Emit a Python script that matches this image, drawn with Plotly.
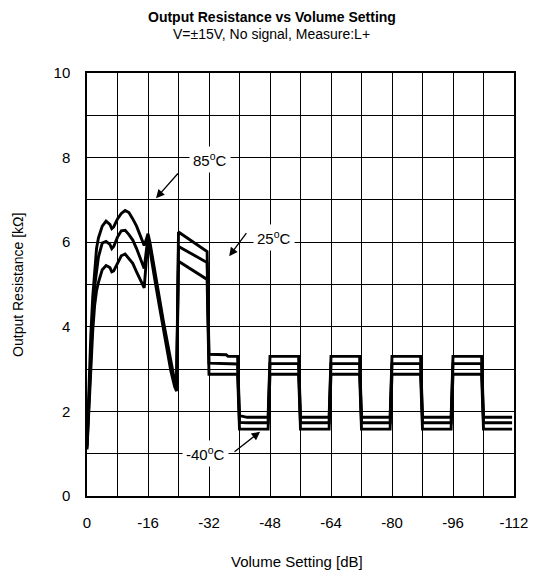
import plotly.graph_objects as go

# Volume setting [dB]
volume_db = [0, -0.5, -1, -1.5, -2, -2.5, -3, -4, -5, -6, -6.5, -7, -8, -9, -10, -11, -12, -13, -14, -15,
             -15.5, -16, -16.5, -17, -18, -19, -20, -21, -22, -23, -23.5,
             -24, -31.5,
             -32, -36.5, -37, -39.5,
             -40, -42, -47.5,
             -48, -55.5, -56, -63.5, -64, -71.5, -72, -79.5,
             -80, -87.5, -88, -95.5, -96, -103.5, -104, -111.5]

# Output resistance [kOhm]
r_85c = [1.2, 2.6, 3.8, 4.7, 5.4, 5.85, 6.1, 6.38, 6.5, 6.42, 6.32, 6.36, 6.55, 6.68, 6.75, 6.7, 6.55, 6.38, 6.15, 5.92,
         6.05, 6.2, 6.0, 5.72, 5.2, 4.68, 4.15, 3.65, 3.15, 2.72, 2.58,
         6.24, 5.78,
         3.35, 3.34, 3.3, 3.3,
         1.9, 1.86, 1.86,
         3.3, 3.3, 1.86, 1.86, 3.3, 3.3, 1.86, 1.86,
         3.3, 3.3, 1.86, 1.86, 3.3, 3.3, 1.86, 1.86]

r_25c = [1.15, 2.3, 3.4, 4.3, 4.95, 5.35, 5.65, 5.98, 6.02, 5.95, 5.85, 5.9, 6.12, 6.27, 6.28, 6.18, 6.05, 5.85, 5.62, 5.38,
         5.75, 6.12, 5.92, 5.62, 5.1, 4.58, 4.05, 3.55, 3.05, 2.65, 2.53,
         5.9, 5.52,
         3.14, 3.13, 3.12, 3.12,
         1.74, 1.73, 1.73,
         3.13, 3.13, 1.73, 1.73, 3.13, 3.13, 1.73, 1.73,
         3.13, 3.13, 1.73, 1.73, 3.13, 3.13, 1.73, 1.73]

r_m40c = [1.1, 2.1, 3.1, 3.9, 4.5, 4.85, 5.05, 5.35, 5.45, 5.4, 5.3, 5.32, 5.5, 5.68, 5.72, 5.62, 5.5, 5.3, 5.1, 4.92,
          5.5, 6.05, 5.82, 5.52, 5.0, 4.48, 3.95, 3.45, 2.95, 2.58, 2.48,
          5.55, 5.12,
          2.88, 2.88, 2.88, 2.88,
          1.58, 1.58, 1.58,
          2.88, 2.88, 1.58, 1.58, 2.88, 2.88, 1.58, 1.58,
          2.88, 2.88, 1.58, 1.58, 2.88, 2.88, 1.58, 1.58]

x_ticks = [0, -16, -32, -48, -64, -80, -96, -112]
x_labels = ["0", "-16", "-32", "-48", "-64", "-80", "-96", "-112"]
x_minor = [-8, -24, -40, -56, -72, -88, -104]
y_ticks = [0, 2, 4, 6, 8, 10]
y_labels = ["0", "2", "4", "6", "8", "10"]
y_minor = [1, 3, 5, 7, 9]

FONT = "Liberation Sans, Arial, sans-serif"

fig = go.Figure()
for name, ys in [("85°C", r_85c), ("25°C", r_25c), ("-40°C", r_m40c)]:
    fig.add_trace(go.Scatter(x=volume_db, y=ys, mode="lines", name=name,
                             line=dict(color="black", width=2.9), showlegend=False))

# arrows (tail -> head)
arrows = [(-24.2, 7.66, -18.1, 7.04), (-42.1, 6.25, -37.3, 5.67), (-38.3, 1.02, -45.4, 1.52)]
for ax_, ay_, x_, y_ in arrows:
    fig.add_annotation(x=x_, y=y_, ax=ax_, ay=ay_, xref="x", yref="y", axref="x", ayref="y",
                       text="", showarrow=True, arrowhead=2, arrowsize=1.3, arrowwidth=1.3,
                       arrowcolor="black")

labels = [("85<sup>o</sup>C", -32.3, 7.95), ("25<sup>o</sup>C", -49, 6.12), ("-40<sup>o</sup>C", -31, 1.0)]
for t, lx, ly in labels:
    fig.add_annotation(x=lx, y=ly, xref="x", yref="y", text=t, showarrow=False,
                       bgcolor="white", font=dict(family=FONT, size=15, color="black"), borderpad=3)

# titles
fig.add_annotation(x=0.433, y=1.1537, xref="paper", yref="paper", yanchor="top", borderpad=0,
                   text="<b>Output Resistance vs Volume Setting</b>", showarrow=False,
                   font=dict(family=FONT, size=14, color="black"))
fig.add_annotation(x=0.433, y=1.0925, xref="paper", yref="paper", yanchor="middle",
                   text="V=±15V, No signal, Measure:L+", showarrow=False,
                   font=dict(family=FONT, size=14, color="black"))
fig.add_annotation(x=0.492, y=-0.156, xref="paper", yref="paper", yanchor="middle",
                   text="Volume Setting [dB]", showarrow=False,
                   font=dict(family=FONT, size=15, color="black"))
fig.add_annotation(x=-0.1616, y=0.499, xref="paper", yref="paper", xanchor="center", yanchor="middle",
                   text="Output Resistance [kΩ]", showarrow=False, textangle=-90,
                   font=dict(family=FONT, size=14, color="black"))

fig.update_layout(
    width=539, height=578,
    margin=dict(l=79, r=33, t=65, b=90, autoexpand=False),
    paper_bgcolor="white", plot_bgcolor="white",
    font=dict(family=FONT, size=15, color="black"),
)
fig.update_xaxes(range=[0, -112], tickvals=x_ticks, ticktext=x_labels,
                 showgrid=True, gridcolor="black", gridwidth=1.2,
                 minor=dict(tickvals=x_minor, showgrid=True, gridcolor="black", gridwidth=1.2, ticks=""),
                 showline=True, linecolor="black", linewidth=1.5, mirror=True,
                 ticks="outside", ticklen=12, tickcolor="rgba(0,0,0,0)", zeroline=False,
                 automargin=False, tickfont=dict(size=15))
fig.update_yaxes(range=[0, 10], tickvals=y_ticks, ticktext=y_labels,
                 showgrid=True, gridcolor="black", gridwidth=1.2,
                 minor=dict(tickvals=y_minor, showgrid=True, gridcolor="black", gridwidth=1.2, ticks=""),
                 showline=True, linecolor="black", linewidth=1.5, mirror=True,
                 ticks="outside", ticklen=12, tickcolor="rgba(0,0,0,0)", zeroline=False,
                 automargin=False, tickfont=dict(size=15))

fig.write_html("out.html")
